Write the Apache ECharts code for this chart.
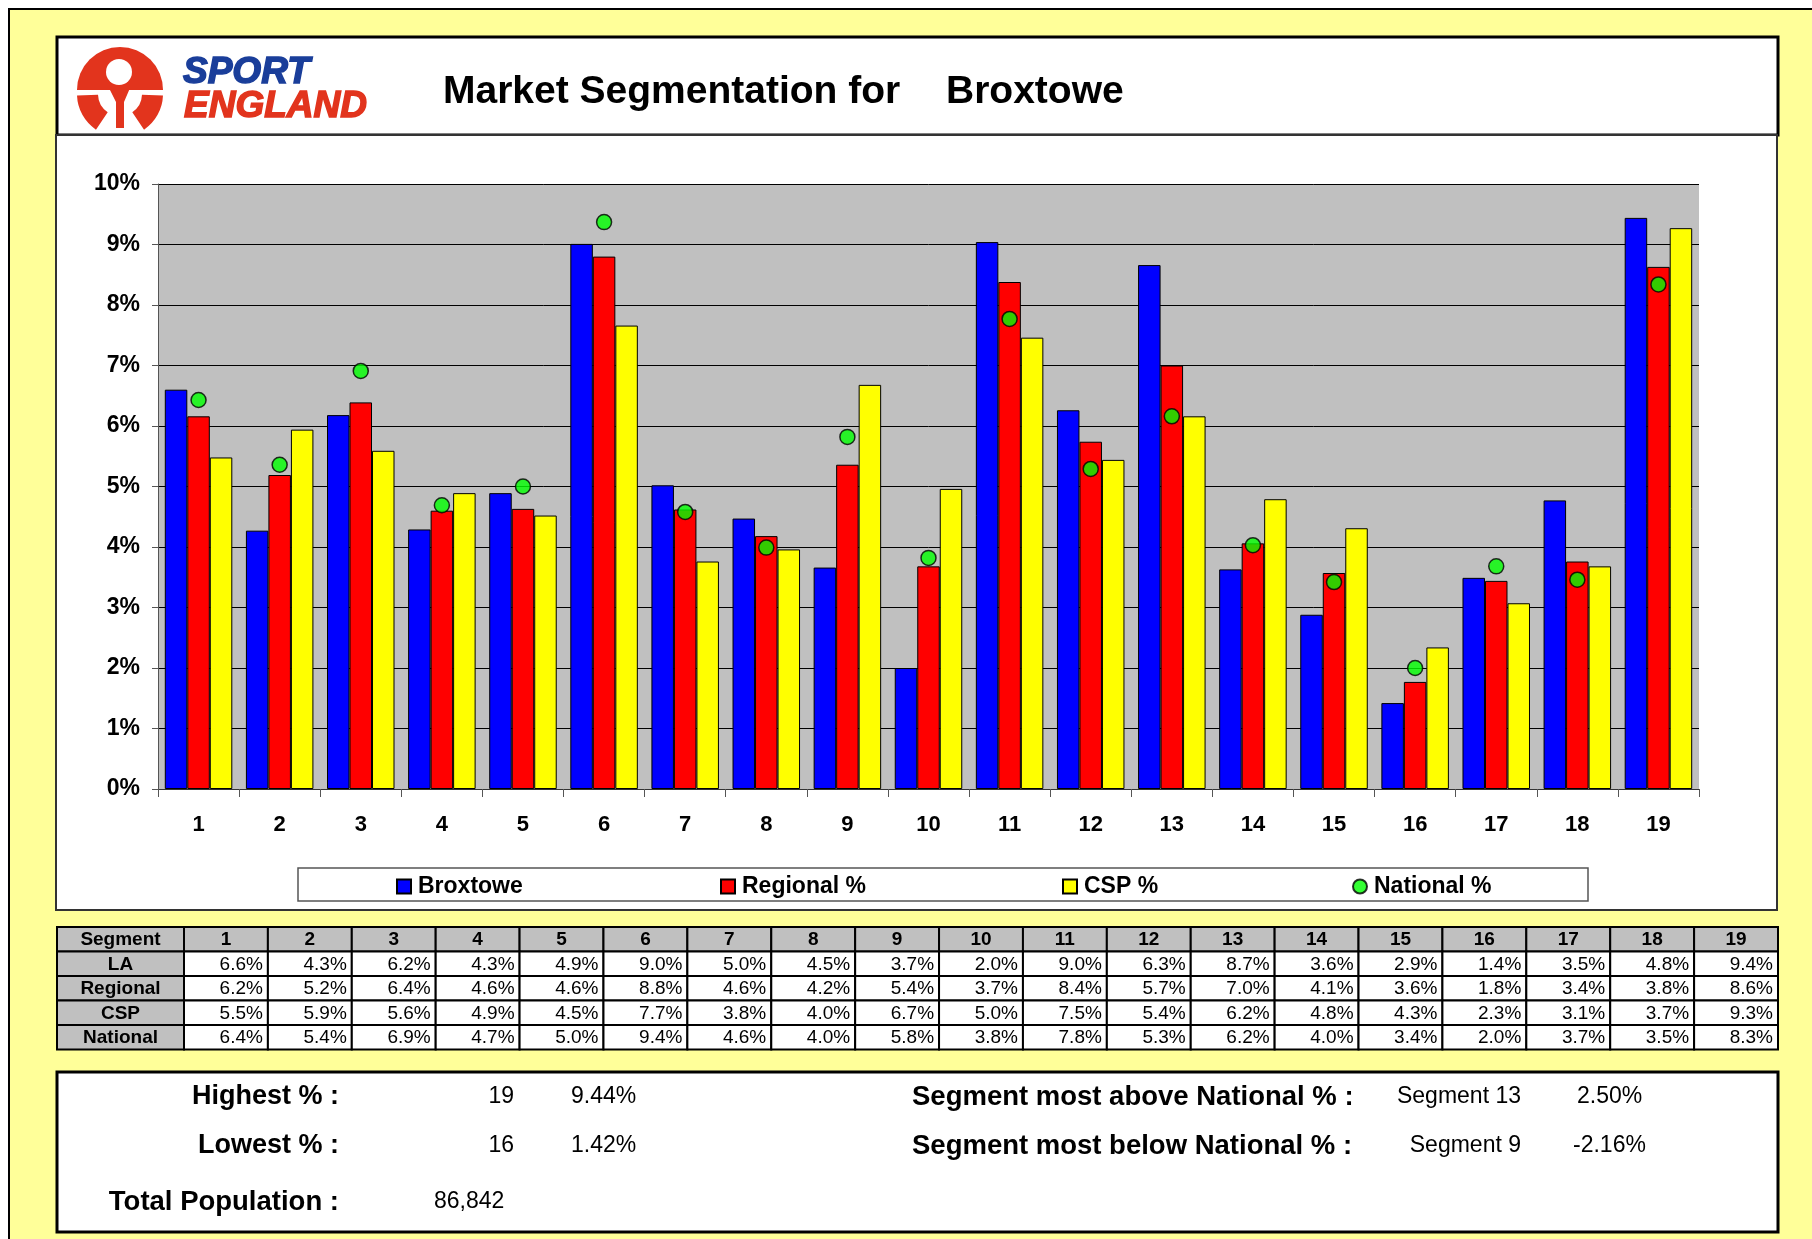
<!DOCTYPE html>
<html>
<head>
<meta charset="utf-8">
<script src="https://cdn.jsdelivr.net/npm/echarts@6/dist/echarts.min.js"></script>
<style>
html,body{margin:0;padding:0;background:#fff;}
#chart{width:1812px;height:1239px;}
</style>
</head>
<body>
<div id="chart"></div>
<script>
// ---- data ----
const segments = ['1','2','3','4','5','6','7','8','9','10','11','12','13','14','15','16','17','18','19'];
const la       = [6.60, 4.27, 6.18, 4.29, 4.89, 9.01, 5.02, 4.47, 3.66, 2.00, 9.04, 6.26, 8.66, 3.63, 2.88, 1.42, 3.49, 4.77, 9.44];
const regional = [6.16, 5.19, 6.39, 4.60, 4.63, 8.80, 4.62, 4.18, 5.36, 3.68, 8.38, 5.74, 7.00, 4.06, 3.57, 1.77, 3.44, 3.76, 8.63];
const csp      = [5.48, 5.94, 5.59, 4.89, 4.52, 7.66, 3.76, 3.96, 6.68, 4.96, 7.46, 5.44, 6.16, 4.79, 4.31, 2.34, 3.07, 3.68, 9.27];
const national = [6.43, 5.36, 6.91, 4.69, 5.00, 9.37, 4.58, 3.99, 5.82, 3.82, 7.77, 5.29, 6.16, 4.03, 3.42, 2.00, 3.68, 3.46, 8.34];
const yTicks = [0,1,2,3,4,5,6,7,8,9,10];
const areaName = 'Broxtowe';
const totalPopulation = '86,842';
const seriesNames = [areaName, 'Regional %', 'CSP %', 'National %'];
const rowLabels = ['LA', 'Regional', 'CSP', 'National'];

// ---- styling helpers ----
const FF = '"Liberation Sans", Arial, sans-serif';
const font = (w, s, it) => (it ? 'italic ' : '') + (w ? 'bold ' : '') + s + 'px ' + FF;
function txt(t, x, y, f, align, color, strokeW) {
  const st = {text:t, x:x, y:y, font:f, fill: color || '#000', textAlign: align || 'left', textVerticalAlign:'middle'};
  if (strokeW) { st.stroke = color; st.lineWidth = strokeW; }
  return {type:'text', z: 5, style: st};
}

const g = [];
// page background
g.push({type:'rect', z:-10, shape:{x:9,y:9,width:1812,height:1239}, style:{fill:'#FFFF99', stroke:'#000', lineWidth:2}});
// header box
g.push({type:'rect', z:-9, shape:{x:57,y:37,width:1721,height:98}, style:{fill:'#fff', stroke:'#000', lineWidth:3}});
// chart box
g.push({type:'rect', z:-9, shape:{x:56,y:135,width:1721,height:775}, style:{fill:'#fff', stroke:'#333', lineWidth:2}});
// legend box
g.push({type:'rect', z:-8, shape:{x:298,y:868,width:1290,height:33}, style:{fill:'#fff', stroke:'#555', lineWidth:1.5}});
// bottom box
g.push({type:'rect', z:-9, shape:{x:57,y:1072,width:1721,height:160}, style:{fill:'#fff', stroke:'#000', lineWidth:3}});

// logo
const RED = '#E2341D', BLUE = '#1A3E9A';
g.push({type:'sector', z:1, shape:{cx:120, cy:90, r:43, r0:0, startAngle:Math.PI, endAngle:2*Math.PI}, style:{fill:RED}});
g.push({type:'circle', z:2, shape:{cx:119, cy:72, r:13}, style:{fill:'#fff'}});
g.push({type:'polygon', z:3, shape:{points:[[109,88],[130,88],[124,102],[124,128],[116,128],[116,102]]}, style:{fill:RED}});
g.push({type:'sector', z:3, shape:{cx:120, cy:94, r:43, r0:22, startAngle:124*Math.PI/180, endAngle:178*Math.PI/180}, style:{fill:RED}});
g.push({type:'sector', z:3, shape:{cx:120, cy:94, r:43, r0:22, startAngle:2*Math.PI/180, endAngle:56*Math.PI/180}, style:{fill:RED}});
g.push(txt('SPORT', 183, 73, font(true, 37, true), 'left', BLUE, 1.5));
g.push(txt('ENGLAND', 184, 107, font(true, 37, true), 'left', RED, 1.5));

// title
g.push(txt('Market Segmentation for', 443, 92, font(true, 39), 'left'));
g.push(txt(areaName, 946, 92, font(true, 39), 'left'));

// table
const tLeft = 57, tTop = 927, firstW = 127, rowH = 24.5;
const colW = (1778 - (tLeft + firstW)) / segments.length;
const tableRows = [la, regional, csp, national];
g.push({type:'rect', z:1, shape:{x:tLeft, y:tTop, width:firstW, height:rowH}, style:{fill:'#C0C0C0', stroke:'#000', lineWidth:2}});
g.push(txt('Segment', tLeft + firstW/2, tTop + rowH/2 + 1, font(true, 19), 'center'));
segments.forEach((s, i) => {
  const x = tLeft + firstW + i*colW;
  g.push({type:'rect', z:1, shape:{x:x, y:tTop, width:colW, height:rowH}, style:{fill:'#C0C0C0', stroke:'#000', lineWidth:2}});
  g.push(txt(s, x + colW/2, tTop + rowH/2 + 1, font(true, 19), 'center'));
});
tableRows.forEach((arr, r) => {
  const y = tTop + (r+1)*rowH;
  g.push({type:'rect', z:1, shape:{x:tLeft, y:y, width:firstW, height:rowH}, style:{fill:'#C0C0C0', stroke:'#000', lineWidth:2}});
  g.push(txt(rowLabels[r], tLeft + firstW/2, y + rowH/2 + 1, font(true, 19), 'center'));
  arr.forEach((v, i) => {
    const x = tLeft + firstW + i*colW;
    g.push({type:'rect', z:1, shape:{x:x, y:y, width:colW, height:rowH}, style:{fill:'#fff', stroke:'#000', lineWidth:2}});
    g.push(txt(v.toFixed(1) + '%', x + colW - 5, y + rowH/2 + 1, font(false, 19), 'right'));
  });
});

// summary panel (computed from data)
let hi = 0, lo = 0, above = 0, below = 0;
la.forEach((v, i) => {
  if (v > la[hi]) hi = i;
  if (v < la[lo]) lo = i;
  if (v - national[i] > la[above] - national[above]) above = i;
  if (v - national[i] < la[below] - national[below]) below = i;
});
const yR1 = 1097, yR2 = 1146, yR3 = 1202;
g.push(txt('Highest % :', 339, yR1, font(true, 27), 'right'));
g.push(txt(segments[hi], 514, yR1, font(false, 23), 'right'));
g.push(txt(la[hi].toFixed(2) + '%', 571, yR1, font(false, 23), 'left'));
g.push(txt('Lowest % :', 339, yR2, font(true, 27), 'right'));
g.push(txt(segments[lo], 514, yR2, font(false, 23), 'right'));
g.push(txt(la[lo].toFixed(2) + '%', 571, yR2, font(false, 23), 'left'));
g.push(txt('Total Population :', 339, yR3, font(true, 27.5), 'right'));
g.push(txt(totalPopulation, 434, yR3, font(false, 23), 'left'));
g.push(txt('Segment most above National % :', 912, yR1, font(true, 27.5), 'left'));
g.push(txt('Segment ' + segments[above], 1521, yR1, font(false, 23), 'right'));
g.push(txt((la[above] - national[above]).toFixed(2) + '%', 1577, yR1, font(false, 23), 'left'));
g.push(txt('Segment most below National % :', 912, yR2, font(true, 27.5), 'left'));
g.push(txt('Segment ' + segments[below], 1521, yR2, font(false, 23), 'right'));
g.push(txt((la[below] - national[below]).toFixed(2) + '%', 1573, yR2, font(false, 23), 'left'));

// ---- chart ----
const legendStyle = {fontSize:23, fontWeight:'bold', color:'#000', fontFamily:FF, padding:[0,0,0,2]};
const legendLefts = [396, 720, 1062, 1352];
const legends = seriesNames.map((n, i) => ({
  data:[n], left: legendLefts[i], top: 875, padding:0, itemWidth:14, itemHeight:14, itemGap:0,
  icon: i === 3 ? 'circle' : 'rect', selectedMode:false, textStyle: legendStyle
}));

const barCommon = (name, data, color) => ({
  name, type:'bar', data, barWidth:22.5, barGap:'0%',
  itemStyle:{color, borderColor:'#000', borderWidth:1}
});

const chart = echarts.init(document.getElementById('chart'), null, {renderer:'canvas'});
chart.setOption({
  backgroundColor:'#fff',
  animation:false,
  graphic: g,
  legend: legends,
  grid:{left:158, top:184, width:1541, height:605, show:true, backgroundColor:'#C0C0C0', borderWidth:0},
  xAxis:{
    type:'category', data: segments, boundaryGap:true,
    axisLine:{show:true, lineStyle:{color:'#333', width:1}},
    axisTick:{show:true, length:8, lineStyle:{color:'#555'}},
    axisLabel:{margin:25, fontSize:22, fontWeight:'bold', color:'#000', fontFamily:FF}
  },
  yAxis:{
    type:'value', min:yTicks[0], max:yTicks[yTicks.length-1], interval:1,
    axisLine:{show:true, lineStyle:{color:'#555', width:1}},
    axisTick:{show:true, length:6, lineStyle:{color:'#555'}},
    splitLine:{show:true, lineStyle:{color:'#000', width:1}},
    axisLabel:{margin:18, fontSize:23, fontWeight:'bold', color:'#000', fontFamily:FF, formatter:'{value}%'}
  },
  series:[
    barCommon(seriesNames[0], la, '#0000FF'),
    barCommon(seriesNames[1], regional, '#FF0000'),
    barCommon(seriesNames[2], csp, '#FFFF00'),
    {name: seriesNames[3], type:'scatter', data: national, symbol:'circle', symbolSize:15, z:5,
     itemStyle:{color:'#00FF00', borderColor:'#000', borderWidth:1.5}}
  ]
});
</script>
</body>
</html>
